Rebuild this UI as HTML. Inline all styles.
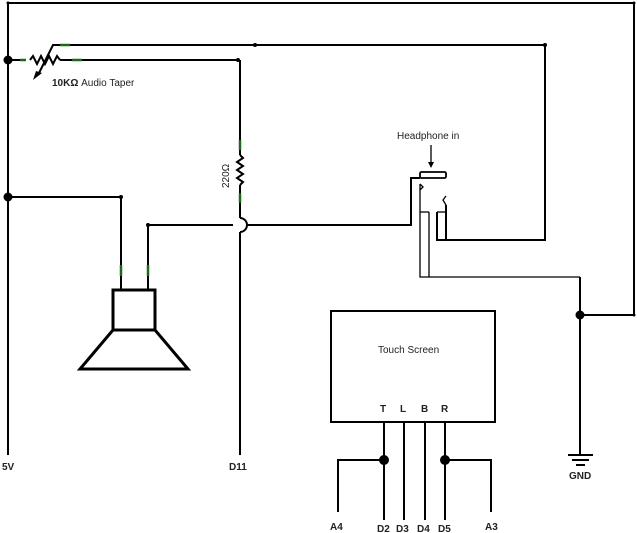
<!DOCTYPE html>
<html><head><style>body{margin:0;background:#fff}svg{display:block}text{font-family:"Liberation Sans",sans-serif;font-size:10px;fill:#222}.b{font-weight:bold}</style></head>
<body>
<svg width="637" height="533" viewBox="0 0 637 533" xmlns="http://www.w3.org/2000/svg">
<g stroke="#000" stroke-width="2" fill="none">
<polyline points="8,455 8,3 634,3 634,315 580,315"/>
<line x1="8" y1="60" x2="20" y2="60"/>
<polyline points="30,60 33,56 37,64 41,56 45,64 49,56 53,64 57,56 60,60"/>
<line x1="60" y1="60" x2="238" y2="60"/>
<polyline points="240,60 240,140"/>
<polyline points="240,155 243,158 237,162 243,166 237,170 243,174 237,178 243,182 240,185"/>
<line x1="240" y1="140" x2="240" y2="155"/>
<line x1="240" y1="185" x2="240" y2="218"/>
<path d="M240,218 A7,7 0 0 1 240,232"/>
<line x1="240" y1="232" x2="240" y2="455"/>
<polyline points="38,75 53,45 545,45 545,240 437,240 437,212"/>
<line x1="446" y1="205" x2="446" y2="240"/>
<polyline points="8,197 121,197 121,290"/>
<polyline points="148,290 148,225 233,225"/>
<polyline points="247,225 411,225 411,178 420,178"/>
<rect x="113" y="290" width="42" height="40" stroke-width="3"/>
<polygon points="113,330 155,330 188,369 80,369" stroke-width="3"/>
<line x1="580" y1="277" x2="580" y2="455"/>
<line x1="580" y1="315" x2="634" y2="315"/>
<line x1="568" y1="455" x2="593" y2="455"/>
<line x1="572" y1="460" x2="589" y2="460"/>
<line x1="576" y1="465" x2="585" y2="465"/>
<rect x="331" y="311" width="164" height="111"/>
<line x1="384" y1="422" x2="384" y2="520"/>
<line x1="404" y1="422" x2="404" y2="520"/>
<line x1="425" y1="422" x2="425" y2="520"/>
<line x1="445" y1="422" x2="445" y2="520"/>
<polyline points="338,512 338,460 384,460"/>
<polyline points="491,512 491,460 445,460"/>
</g>
<g stroke="#000" stroke-width="1.3" fill="none">
<rect x="420" y="172" width="26" height="6" rx="1.5" stroke-width="1.8"/>
<line x1="431" y1="145" x2="431" y2="165"/>
<polyline points="420,184 420,277 580,277"/>
<polyline points="429,212 429,277"/>
<polyline points="420,184 423,187 420,190"/>
<polyline points="446,196 443,200 446,205"/>
<line x1="420" y1="212" x2="429" y2="212"/>
<line x1="437" y1="212" x2="446" y2="212"/>
</g>
<g fill="#000">
<polygon points="428,162 434,162 431,168"/>
<polygon points="33,80 42,73 36,71"/>
<circle cx="8" cy="60" r="4.5"/><circle cx="8" cy="197" r="4.5"/>
<circle cx="8" cy="3" r="1.5"/><circle cx="634" cy="3" r="1.5"/><circle cx="634" cy="315" r="1.5"/>
<circle cx="255" cy="45" r="2"/><circle cx="545" cy="45" r="2"/><circle cx="238" cy="60" r="2"/>
<circle cx="121" cy="197" r="2"/><circle cx="148" cy="225" r="2"/>
<circle cx="580" cy="315" r="4.5"/>
<circle cx="384" cy="460" r="5"/><circle cx="445" cy="460" r="5"/>
</g>
<g stroke="#1a6a1a" stroke-width="2.5">
<line x1="60" y1="45" x2="70" y2="45"/><line x1="72" y1="60" x2="82" y2="60"/>
<line x1="20" y1="60" x2="26" y2="60"/>
<line x1="240" y1="140" x2="240" y2="150"/><line x1="240" y1="193" x2="240" y2="203"/>
<line x1="121" y1="265" x2="121" y2="276"/><line x1="148" y1="265" x2="148" y2="276"/>
</g>
<text x="52" y="86" class="b">10KΩ <tspan font-weight="normal">Audio Taper</tspan></text>
<text x="229" y="188" transform="rotate(-90 229 188)" font-size="9">220Ω</text>
<text x="397" y="139" font-size="9">Headphone in</text>
<text x="378" y="353">Touch Screen</text>
<g class="b"><text x="380" y="412">T</text><text x="400" y="412">L</text><text x="421" y="412">B</text><text x="441" y="412">R</text>
<text x="2" y="470">5V</text><text x="229" y="470">D11</text>
<text x="569" y="479">GND</text>
<text x="330" y="530">A4</text><text x="377" y="532">D2</text><text x="396" y="532">D3</text><text x="417" y="532">D4</text><text x="438" y="532">D5</text><text x="485" y="530">A3</text></g>
</svg>
</body></html>
